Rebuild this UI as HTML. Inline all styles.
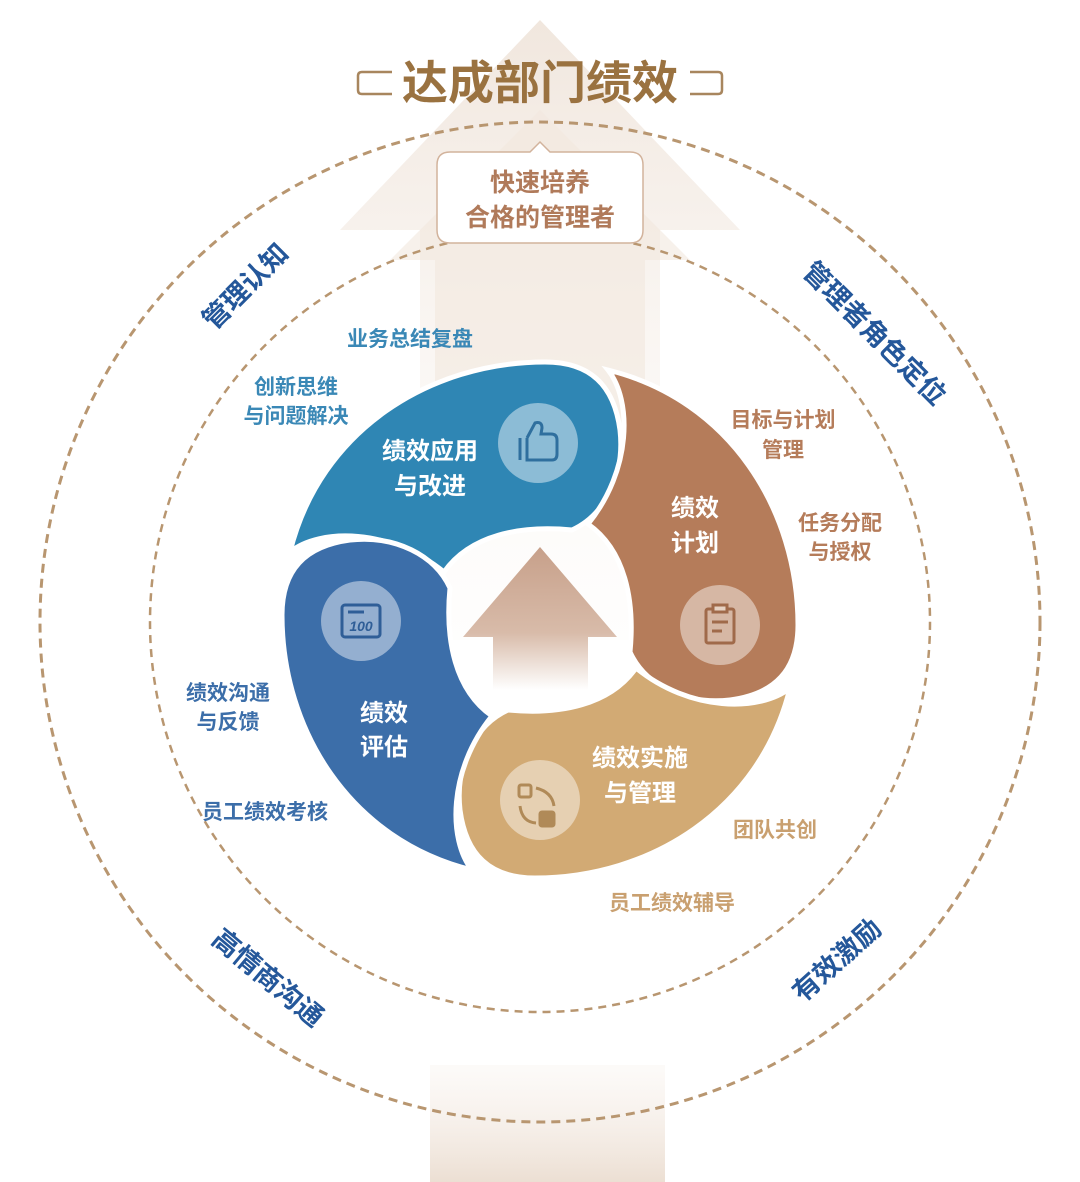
<!DOCTYPE html>
<html><head><meta charset="utf-8"><style>
html,body{margin:0;padding:0;background:#fff;}
svg{display:block;}
text{font-family:"Liberation Sans","Noto Sans CJK SC",sans-serif;font-weight:bold;}
</style></head><body>
<svg width="1080" height="1182" viewBox="0 0 1080 1182" xmlns="http://www.w3.org/2000/svg">
<defs>
<linearGradient id="bg" x1="0" y1="0" x2="0" y2="1">
<stop offset="0" stop-color="#efe4da" stop-opacity="0.9"/>
<stop offset="0.5" stop-color="#f6efe9" stop-opacity="0.6"/>
<stop offset="1" stop-color="#fbf8f5" stop-opacity="0.2"/>
</linearGradient>
<linearGradient id="bot" x1="0" y1="0" x2="0" y2="1">
<stop offset="0" stop-color="#f7f0ea" stop-opacity="0.3"/>
<stop offset="1" stop-color="#ecdfd3"/>
</linearGradient>
<linearGradient id="ca" x1="0" y1="0" x2="0" y2="1">
<stop offset="0" stop-color="#c7a08a"/>
<stop offset="0.6" stop-color="#d8bba9"/>
<stop offset="1" stop-color="#ffffff"/>
</linearGradient>
</defs>
<path d="M540,20 L740,230 L660,230 L660,640 L420,640 L420,230 L340,230 Z" fill="url(#bg)"/>
<path d="M540,110 L690,260 L645,260 L645,500 L435,500 L435,260 L390,260 Z" fill="#f1e7de" opacity="0.6"/>
<rect x="430" y="1065" width="235" height="117" fill="url(#bot)"/>
<circle cx="540" cy="622" r="500" fill="none" stroke="#b89670" stroke-width="3" stroke-dasharray="9,6"/>
<circle cx="540" cy="622" r="390" fill="none" stroke="#b89670" stroke-width="2.5" stroke-dasharray="8,6"/>
<path d="M392,72 L362,72 Q358,72 358,76 L358,90 Q358,94 362,94 L392,94" fill="none" stroke="#a8865e" stroke-width="2.5"/>
<path d="M690,72 L718,72 Q722,72 722,76 L722,90 Q722,94 718,94 L690,94" fill="none" stroke="#a8865e" stroke-width="2.5"/>
<text x="540" y="99" font-size="46" fill="#9a7240" text-anchor="middle">达成部门绩效</text>
<path d="M450,152 L530,152 L540,142 L550,152 L630,152 Q643,152 643,165 L643,230 Q643,243 630,243 L450,243 Q437,243 437,230 L437,165 Q437,152 450,152 Z" fill="#fff" stroke="#d2b39c" stroke-width="1.5"/>
<text x="540" y="191" font-size="25" fill="#b07a5a" text-anchor="middle">快速培养</text>
<text x="540" y="226" font-size="25" fill="#b07a5a" text-anchor="middle">合格的管理者</text>
<g stroke="#fff" stroke-width="5">
<path d="M290,552 C320,528 390,528 444,572 C470,535 520,525 572,530 C605,515 625,475 620,430 C614,385 590,362 545,362 C430,362 320,430 290,552 Z" fill="#2f86b4"/>
<path d="M290,552 C320,528 390,528 444,572 C470,535 520,525 572,530 C605,515 625,475 620,430 C614,385 590,362 545,362 C430,362 320,430 290,552 Z" fill="#b57c5a" transform="rotate(90 540 620)"/>
<path d="M290,552 C320,528 390,528 444,572 C470,535 520,525 572,530 C605,515 625,475 620,430 C614,385 590,362 545,362 C430,362 320,430 290,552 Z" fill="#d2aa74" transform="rotate(180 540 620)"/>
<path d="M290,552 C320,528 390,528 444,572 C470,535 520,525 572,530 C605,515 625,475 620,430 C614,385 590,362 545,362 C430,362 320,430 290,552 Z" fill="#3c6ea9" transform="rotate(270 540 620)"/>
</g>
<path d="M540,547 L617,637 L588,637 L588,690 L493,690 L493,637 L463,637 Z" fill="url(#ca)"/>
<circle cx="538" cy="443" r="40" fill="#ffffff" opacity="0.45"/>
<circle cx="720" cy="625" r="40" fill="#ffffff" opacity="0.45"/>
<circle cx="540" cy="800" r="40" fill="#ffffff" opacity="0.45"/>
<circle cx="361" cy="621" r="40" fill="#ffffff" opacity="0.45"/>
<g fill="none" stroke="#2f6f9e" stroke-width="3">
<path d="M520,438 L520,460"/><path d="M527,438 L527,460 L552,460 Q557,460 557,454 L557,440 Q557,434 551,434 L541,434 L542,428 Q542,421 535,423 L527,438"/>
</g>
<g fill="none" stroke="#a06a4a" stroke-width="3"><rect x="706" y="609" width="28" height="34" rx="2"/><rect x="713" y="605" width="14" height="7" fill="#e6d2c3"/><path d="M712,622 H728 M712,631 H722"/></g>
<g fill="none" stroke="#b08a58" stroke-width="3"><rect x="519" y="785" width="12" height="12" rx="2"/><rect x="540" y="812" width="14" height="14" rx="2" fill="#b08a58"/><path d="M536,788 Q552,792 554,806 M520,806 Q522,822 536,823"/></g>
<g fill="none" stroke="#2f5e97" stroke-width="3"><rect x="342" y="605" width="38" height="32" rx="3"/><path d="M348,612 H364"/><text x="361" y="631" font-size="14" fill="#2f5e97" stroke="none" text-anchor="middle" font-style="italic">100</text></g>
<g font-size="24" fill="#fff" text-anchor="middle">
<text x="430" y="459">绩效应用</text><text x="430" y="494">与改进</text>
<text x="695" y="516">绩效</text><text x="695" y="551">计划</text>
<text x="640" y="766">绩效实施</text><text x="640" y="801">与管理</text>
<text x="384" y="721">绩效</text><text x="384" y="755">评估</text>
</g>
<g font-size="21" text-anchor="middle">
<text x="410" y="346" fill="#3a88b6">业务总结复盘</text>
<text x="296" y="394" fill="#3a88b6">创新思维</text><text x="296" y="423" fill="#3a88b6">与问题解决</text>
<text x="228" y="700" fill="#3c6ea9">绩效沟通</text><text x="228" y="729" fill="#3c6ea9">与反馈</text>
<text x="265" y="819" fill="#3c6ea9">员工绩效考核</text>
<text x="783" y="427" fill="#b57c5a">目标与计划</text><text x="783" y="457" fill="#b57c5a">管理</text>
<text x="840" y="530" fill="#b57c5a">任务分配</text><text x="840" y="559" fill="#b57c5a">与授权</text>
<text x="775" y="837" fill="#c9a070">团队共创</text>
<text x="672" y="910" fill="#c9a070">员工绩效辅导</text>
</g>
<g font-size="27" fill="#24579a" text-anchor="middle">
<text transform="translate(252,293) rotate(-45)">管理认知</text>
<text transform="translate(868,340) rotate(45)">管理者角色定位</text>
<text transform="translate(262,985) rotate(40)">高情商沟通</text>
<text transform="translate(843,967) rotate(-42)">有效激励</text>
</g>
</svg>
</body></html>
